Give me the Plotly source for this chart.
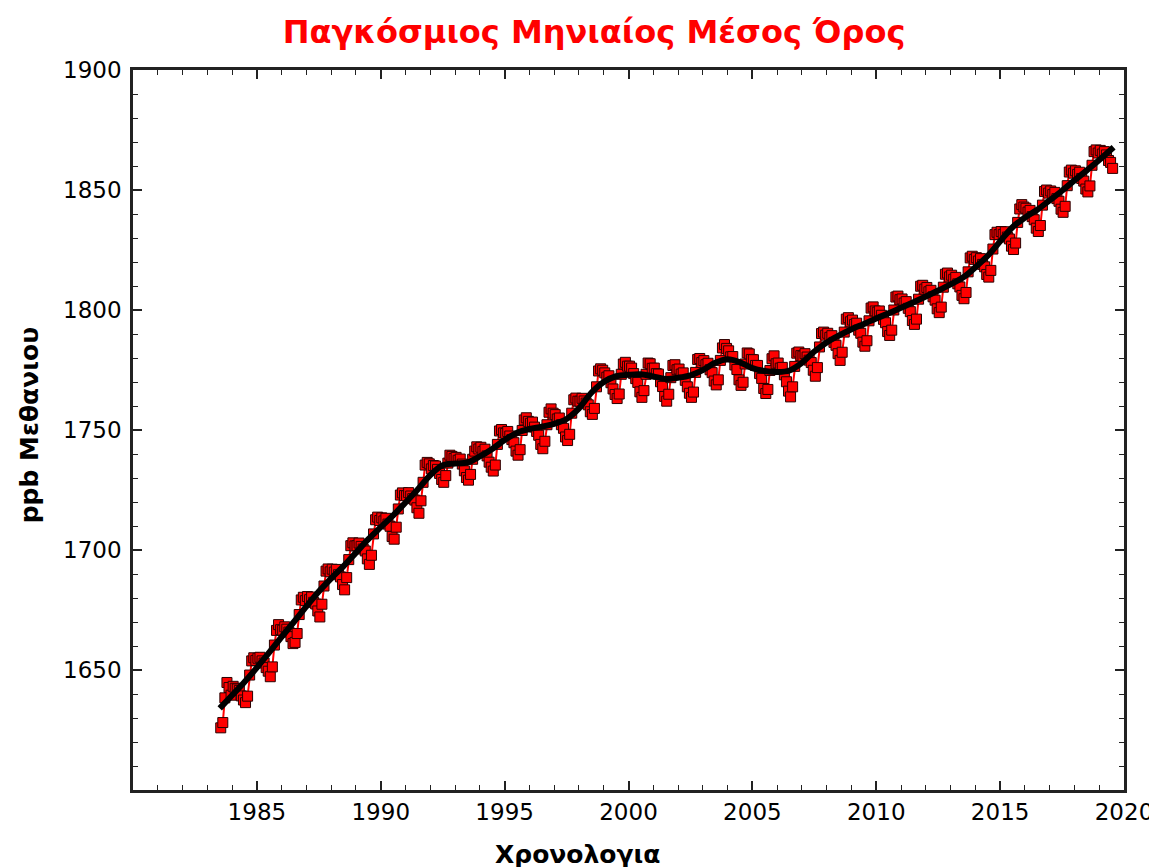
import plotly.graph_objects as go

# Global monthly mean CH4 (ppb), July 1983 -> July 2019
ch4_1980s = [
    1625.9, 1628.1, 1638.4, 1644.8, 1642.7, 1639.5,
    1643.2, 1642.4, 1642.1, 1641.5, 1639.2, 1637.5, 1636.4, 1639.1, 1647.9, 1653.8, 1655.1, 1654.0,
    1654.9, 1655.3, 1653.8, 1652.9, 1651.0, 1649.5, 1647.2, 1651.3, 1660.4, 1666.5, 1668.9, 1666.8,
    1666.6, 1668.0, 1667.0, 1665.8, 1663.9, 1661.0, 1661.5, 1665.2, 1673.1, 1679.2, 1680.3, 1678.9,
    1680.6, 1679.3, 1680.4, 1678.2, 1677.5, 1674.6, 1672.1, 1677.4, 1685.0, 1691.2, 1692.1, 1690.9,
    1692.0, 1690.8, 1691.9, 1689.7, 1688.8, 1685.6, 1683.4, 1688.5, 1696.0, 1701.8, 1703.0, 1701.7,
    1701.8, 1702.9, 1701.5, 1700.4, 1699.6, 1696.3, 1694.0, 1697.8, 1706.7, 1712.6, 1713.7, 1712.3,
]
ch4_1990s = [
    1713.4, 1712.1, 1713.2, 1710.8, 1709.9, 1705.6, 1704.5, 1709.5, 1717.1, 1722.9, 1723.8, 1722.7,
    1722.6, 1723.9, 1722.5, 1721.4, 1720.8, 1717.6, 1715.3, 1720.5, 1728.2, 1735.4, 1736.5, 1735.9,
    1733.8, 1735.2, 1735.0, 1733.6, 1731.9, 1729.4, 1728.2, 1731.0, 1736.2, 1739.5, 1739.0, 1738.2,
    1738.6, 1737.4, 1737.9, 1735.8, 1733.0, 1730.2, 1729.1, 1731.5, 1737.8, 1741.2, 1743.0, 1742.1,
    1742.8, 1741.1, 1742.0, 1739.2, 1736.6, 1734.5, 1732.9, 1735.4, 1744.0, 1749.6, 1750.2, 1748.8,
    1748.6, 1749.4, 1747.5, 1746.0, 1744.7, 1741.2, 1739.5, 1741.8, 1749.8, 1754.2, 1755.1, 1753.6,
    1752.8, 1753.3, 1751.2, 1749.4, 1747.8, 1744.0, 1742.2, 1745.3, 1752.2, 1757.4, 1758.8, 1757.0,
    1756.4, 1754.6, 1755.0, 1752.2, 1750.7, 1747.1, 1745.6, 1748.2, 1757.0, 1762.6, 1763.3, 1762.0,
    1762.0, 1763.2, 1762.1, 1761.2, 1760.5, 1757.6, 1756.5, 1759.0, 1768.0, 1774.6, 1775.5, 1774.9,
    1773.8, 1772.0, 1772.6, 1769.7, 1767.1, 1764.8, 1763.1, 1765.0, 1773.2, 1777.5, 1778.2, 1776.6,
]
ch4_2000s = [
    1776.6, 1775.8, 1773.5, 1771.4, 1769.8, 1765.9, 1763.6, 1766.4, 1773.2, 1777.9, 1777.6, 1775.7,
    1775.8, 1773.5, 1773.3, 1770.1, 1768.1, 1764.0, 1762.0, 1764.9, 1771.8, 1776.9, 1777.2, 1775.1,
    1775.4, 1773.3, 1773.8, 1770.7, 1768.0, 1765.3, 1763.6, 1765.8, 1774.0, 1779.4, 1779.8, 1778.1,
    1778.9, 1777.2, 1777.8, 1775.1, 1773.9, 1770.4, 1768.8, 1770.9, 1779.0, 1784.2, 1785.6, 1784.0,
    1783.0, 1780.5, 1780.6, 1777.1, 1775.2, 1770.9, 1768.6, 1769.9, 1777.5, 1782.1, 1781.7, 1779.4,
    1779.3, 1776.9, 1776.9, 1773.5, 1771.5, 1767.3, 1765.2, 1766.9, 1774.8, 1779.7, 1780.9, 1777.6,
    1777.9, 1775.8, 1776.1, 1773.0, 1770.1, 1766.2, 1763.8, 1768.0, 1776.5, 1782.0, 1782.5, 1781.0,
    1780.8, 1781.8, 1780.4, 1779.1, 1778.1, 1774.9, 1772.4, 1776.0, 1784.6, 1790.2, 1790.8, 1789.5,
    1790.3, 1788.6, 1789.3, 1786.5, 1785.3, 1781.8, 1779.0, 1782.4, 1790.8, 1796.2, 1796.8, 1795.1,
    1795.8, 1794.0, 1794.5, 1791.6, 1790.3, 1786.6, 1784.9, 1787.2, 1795.5, 1800.8, 1801.3, 1799.6,
]
ch4_2010s = [
    1799.1, 1799.6, 1797.8, 1796.1, 1794.7, 1791.0, 1789.4, 1791.6, 1800.0, 1805.4, 1805.8, 1804.3,
    1804.6, 1802.9, 1803.5, 1800.7, 1799.3, 1795.6, 1794.0, 1796.2, 1804.5, 1809.9, 1810.3, 1808.7,
    1809.4, 1807.6, 1808.2, 1805.5, 1804.1, 1800.5, 1798.9, 1801.2, 1809.5, 1814.9, 1815.4, 1813.8,
    1814.5, 1812.8, 1813.6, 1810.9, 1809.6, 1806.1, 1804.7, 1807.3, 1815.9, 1821.7, 1822.4, 1821.1,
    1821.8, 1820.4, 1821.4, 1819.0, 1818.0, 1814.8, 1813.7, 1816.5, 1825.4, 1831.4, 1832.4, 1831.4,
    1832.7, 1831.5, 1832.6, 1830.4, 1829.6, 1826.6, 1825.2, 1827.9, 1836.5, 1842.1, 1843.9, 1842.9,
    1842.4, 1840.8, 1841.5, 1838.9, 1837.6, 1834.1, 1832.7, 1835.2, 1843.7, 1849.4, 1850.0, 1848.7,
    1849.6, 1848.1, 1849.0, 1846.4, 1845.3, 1842.0, 1840.7, 1843.2, 1851.8, 1857.5, 1858.3, 1857.0,
    1858.0, 1856.5, 1857.4, 1854.8, 1853.7, 1850.4, 1849.2, 1851.7, 1860.3, 1866.0, 1866.7, 1865.4,
    1866.5, 1865.0, 1866.0, 1864.6, 1862.3, 1861.5, 1859.0,
]
first_year, first_month = 1983, 7

# deseasonalised trend (black line), half-yearly
trend_years = [
    1983.5, 1984.0, 1984.5, 1985.0, 1985.5, 1986.0, 1986.5, 1987.0, 1987.5, 1988.0,
    1988.5, 1989.0, 1989.5, 1990.0, 1990.5, 1991.0, 1991.5, 1992.0, 1992.5, 1993.0,
    1993.5, 1994.0, 1994.5, 1995.0, 1995.5, 1996.0, 1996.5, 1997.0, 1997.5, 1998.0,
    1998.5, 1999.0, 1999.5, 2000.0, 2000.5, 2001.0, 2001.5, 2002.0, 2002.5, 2003.0,
    2003.5, 2004.0, 2004.5, 2005.0, 2005.5, 2006.0, 2006.5, 2007.0, 2007.5, 2008.0,
    2008.5, 2009.0, 2009.5, 2010.0, 2010.5, 2011.0, 2011.5, 2012.0, 2012.5, 2013.0,
    2013.5, 2014.0, 2014.5, 2015.0, 2015.5, 2016.0, 2016.5, 2017.0, 2017.5, 2018.0,
    2018.5, 2019.0, 2019.58,
]
trend_ppb = [
    1634.0, 1639.5, 1645.0, 1651.0, 1657.3, 1663.8, 1670.1, 1676.5, 1682.7, 1688.2,
    1693.3, 1698.9, 1704.5, 1709.5, 1714.4, 1719.8, 1725.3, 1731.2, 1735.3, 1736.0,
    1736.5, 1739.0, 1742.1, 1745.8, 1748.9, 1750.4, 1751.4, 1752.6, 1754.6, 1759.0,
    1765.5, 1770.0, 1772.4, 1773.0, 1773.2, 1772.3, 1771.3, 1771.8, 1772.8, 1775.0,
    1778.0, 1779.5, 1778.2, 1775.8, 1774.6, 1774.2, 1774.8, 1778.0, 1782.7, 1786.5,
    1789.4, 1792.0, 1794.2, 1796.5, 1798.6, 1800.9, 1803.2, 1805.6, 1808.1, 1810.7,
    1813.5, 1817.8, 1822.6, 1828.6, 1834.5, 1838.5, 1841.8, 1845.7, 1849.7, 1854.0,
    1858.2, 1862.5, 1867.8,
]

ch4 = ch4_1980s + ch4_1990s + ch4_2000s + ch4_2010s
dates = [first_year + (first_month - 1 + i + 0.5) / 12 for i in range(len(ch4))]

FONT = "DejaVu Sans"

fig = go.Figure()
fig.add_trace(go.Scatter(
    x=dates, y=ch4,
    mode='lines+markers',
    line=dict(color='#ff0000', width=2),
    marker=dict(symbol='square', size=10, color='#ff0000',
                line=dict(color='#2a0000', width=1)),
    showlegend=False
))
fig.add_trace(go.Scatter(
    x=trend_years, y=trend_ppb,
    mode='lines',
    line=dict(color='black', width=6, shape='spline'),
    showlegend=False
))

axis_style = dict(
    showgrid=False, zeroline=False,
    showline=True, linecolor='#222222', linewidth=2.5, mirror='ticks',
    ticks='inside', ticklen=9, tickwidth=1.5, tickcolor='#222222',
    tickfont=dict(family=FONT, size=23, color='black'),
)

fig.update_xaxes(
    range=[1980, 2020],
    tickvals=[1985, 1990, 1995, 2000, 2005, 2010, 2015, 2020],
    minor=dict(dtick=1, tick0=1980, ticks='inside', ticklen=5, tickwidth=1.2,
               tickcolor='#222222'),
    **axis_style
)
fig.update_yaxes(
    range=[1600, 1900],
    tickvals=[1650, 1700, 1750, 1800, 1850, 1900],
    minor=dict(dtick=10, tick0=1600, ticks='inside', ticklen=5, tickwidth=1.2,
               tickcolor='#222222'),
    ticklabelstandoff=4,
    **axis_style
)

fig.update_layout(
    width=1157, height=867,
    margin=dict(l=125, r=30, t=62, b=85),
    paper_bgcolor='white', plot_bgcolor='white',
    title=dict(text='<b>Παγκόσμιος Μηνιαίος Μέσος Όρος</b>',
               font=dict(family=FONT, size=32, color='#ff0000'),
               x=0.5065, xref='container', xanchor='center',
               y=0.972, yref='container', yanchor='middle'),
    annotations=[
        dict(text='<b>Χρονολογια</b>', xref='paper', yref='paper',
             x=0.4487, y=-0.09, xanchor='center', yanchor='middle',
             showarrow=False, font=dict(family=FONT, size=25, color='black')),
        dict(text='<b>ppb Μεθανιου</b>', xref='paper', yref='paper',
             x=-0.1036, y=0.507, xanchor='center', yanchor='middle',
             textangle=-90, showarrow=False,
             font=dict(family=FONT, size=25, color='black')),
    ],
)

fig.write_html("out.html")
